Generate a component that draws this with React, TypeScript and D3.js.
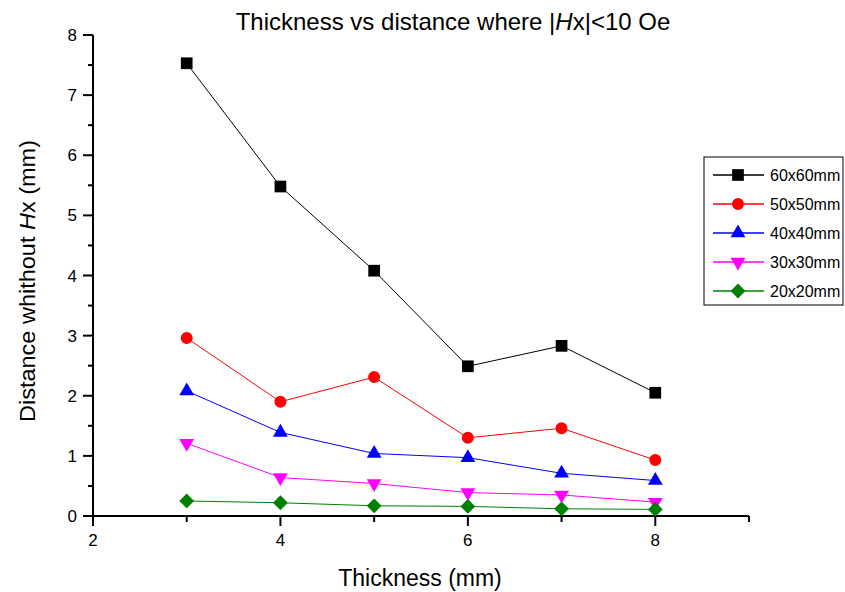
import React from "react";
import * as d3 from "d3";

const thickness = [3, 4, 5, 6, 7, 8];
const s60 = [7.53, 5.48, 4.08, 2.49, 2.83, 2.05];
const s50 = [2.96, 1.9, 2.31, 1.3, 1.46, 0.93];
const s40 = [2.08, 1.39, 1.04, 0.97, 0.71, 0.59];
const s30 = [1.21, 0.64, 0.54, 0.39, 0.35, 0.23];
const s20 = [0.25, 0.22, 0.17, 0.16, 0.12, 0.11];
const seriesNames = ["60x60mm", "50x50mm", "40x40mm", "30x30mm", "20x20mm"];
const seriesColors = ["#000000", "#ff0000", "#0000ff", "#ff00ff", "#008000"];
const xMajorTicks = [2, 4, 6, 8];
const xMinorTicks = [3, 5, 7, 9];
const yMajorTicks = [0, 1, 2, 3, 4, 5, 6, 7, 8];
const yMinorTicks = [0.5, 1.5, 2.5, 3.5, 4.5, 5.5, 6.5, 7.5];

const W = 845, H = 592;
const font = "Liberation Sans, Arial, sans-serif";

const diamond = "M0,-7.4L7.4,0L0,7.4L-7.4,0Z";

function symPath(i: number): string {
  if (i === 0) return d3.symbol().type(d3.symbolSquare).size(137)() as string;
  if (i === 1) return d3.symbol().type(d3.symbolCircle).size(113)() as string;
  if (i === 2 || i === 3) return d3.symbol().type(d3.symbolTriangle).size(95)() as string;
  return diamond;
}

export default function App() {
  const x = d3.scaleLinear().domain([2, 9]).range([93, 749]);
  const y = d3.scaleLinear().domain([0, 8]).range([516, 35]);
  const data = [s60, s50, s40, s30, s20];
  const line = d3.line<number>().x((_, i) => x(thickness[i])).y((d) => y(d));
  const rot = (i: number) => (i === 3 ? " rotate(180)" : "");
  const legendRows = [175, 204, 233, 262, 291];

  return (
    <svg width={W} height={H} style={{ position: "absolute", left: 0, top: 0, background: "#fff" }}>
      <rect width={W} height={H} fill="#fff" />
      <text x={453} y={30} textAnchor="middle" fontFamily={font} fontSize={24}>
        Thickness vs distance where |<tspan fontStyle="italic">H</tspan>x|&lt;10 Oe
      </text>
      {/* axes */}
      <line x1={93} x2={93} y1={y(8)} y2={y(0)} stroke="#000" strokeWidth={2} />
      <line x1={92} x2={x(9)} y1={516} y2={516} stroke="#000" strokeWidth={2} />
      {yMajorTicks.map((t) => (
        <g key={"ym" + t}>
          <line x1={83} x2={93} y1={y(t)} y2={y(t)} stroke="#000" strokeWidth={2} />
          <text x={77} y={y(t) + 6} textAnchor="end" fontFamily={font} fontSize={17}>{t}</text>
        </g>
      ))}
      {yMinorTicks.map((t) => (
        <line key={"yn" + t} x1={88} x2={93} y1={y(t)} y2={y(t)} stroke="#000" strokeWidth={2} />
      ))}
      {xMajorTicks.map((t) => (
        <g key={"xm" + t}>
          <line x1={x(t)} x2={x(t)} y1={516} y2={526} stroke="#000" strokeWidth={2} />
          <text x={x(t)} y={546} textAnchor="middle" fontFamily={font} fontSize={17}>{t}</text>
        </g>
      ))}
      {xMinorTicks.map((t) => (
        <line key={"xn" + t} x1={x(t)} x2={x(t)} y1={516} y2={522} stroke="#000" strokeWidth={2} />
      ))}
      <text x={420} y={586} textAnchor="middle" fontFamily={font} fontSize={23}>Thickness (mm)</text>
      <text transform="translate(35,281) rotate(-90)" textAnchor="middle" fontFamily={font} fontSize={22}
        textLength={282} lengthAdjust="spacingAndGlyphs">
        Distance whithout <tspan fontStyle="italic">H</tspan>x (mm)
      </text>
      {/* series */}
      {data.map((s, i) => (
        <g key={"s" + i}>
          <path d={line(s) as string} fill="none" stroke={seriesColors[i]} strokeWidth={1} />
          {s.map((v, j) => (
            <path key={j} d={symPath(i)} transform={`translate(${x(thickness[j])},${y(v)})${rot(i)}`} fill={seriesColors[i]} />
          ))}
        </g>
      ))}
      {/* legend */}
      <rect x={704} y={157} width={139} height={148} fill="#fff" stroke="#000" strokeWidth={1} />
      {seriesNames.map((n, i) => (
        <g key={"l" + i}>
          <line x1={713} x2={764} y1={legendRows[i]} y2={legendRows[i]} stroke={seriesColors[i]} strokeWidth={1.5} />
          <path d={symPath(i)} transform={`translate(738,${legendRows[i]})${rot(i)}`} fill={seriesColors[i]} />
          <text x={770} y={legendRows[i] + 5.5} fontFamily={font} fontSize={16}>{n}</text>
        </g>
      ))}
    </svg>
  );
}
